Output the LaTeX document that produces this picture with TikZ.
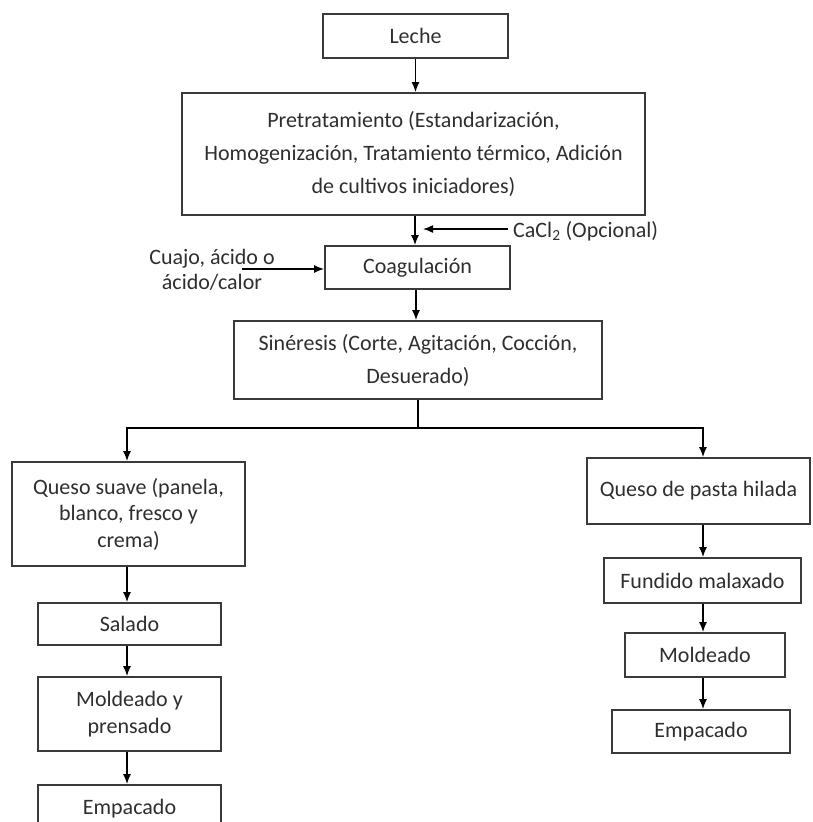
\documentclass[tikz,border=0pt]{standalone}
\usepackage{fontspec}
\setmainfont{Carlito}
\usetikzlibrary{arrows.meta}
\definecolor{ink}{HTML}{2E2E2E}
\definecolor{edge}{HTML}{3A3A3A}
\begin{document}
\begin{tikzpicture}[x=1pt,y=-1pt,
  box/.style={draw=edge,line width=1.8pt,inner sep=0pt,align=center,text=ink,
    font=\fontsize{22}{33}\selectfont},
  tight/.style={font=\fontsize{22}{26.5}\selectfont},
  lbl/.style={inner sep=0pt,align=center,text=ink,font=\fontsize{22}{25}\selectfont},
  arr/.style={line width=1.5pt,-{Latex[length=10pt,width=8pt]}},
  ln/.style={line width=1.5pt}]
\useasboundingbox (0,0) rectangle (812,822);

% main line
\node[box,minimum width=185pt,minimum height=44pt] (leche) at (415.5,36) {Leche};
\node[box,minimum width=463pt,minimum height=122pt] (pre) at (413.5,154)
  {Pretratamiento (Estandarización,\\Homogenización, Tratamiento térmico, Adición\\de cultivos iniciadores)};
\node[box,minimum width=185pt,minimum height=43pt] (coag) at (417.5,267.5) {Coagulación};
\node[box,minimum width=368pt,minimum height=78pt] (sin) at (418,360)
  {Sinéresis (Corte, Agitación, Cocción,\\Desuerado)};

% additions
\node[lbl,anchor=west] (cacl) at (513,231) {CaCl\textsubscript{2} (Opcional)};
\node[lbl] (cuajo) at (212,270) {Cuajo, ácido o\\ácido/calor};
\coordinate (cajoStart) at (242,269);

% left branch
\node[box,tight,minimum width=233pt,minimum height=104pt] (suave) at (128.5,514)
  {Queso suave (panela,\\blanco, fresco y\\crema)};
\node[box,minimum width=183pt,minimum height=42pt] (salado) at (129.5,624) {Salado};
\node[box,tight,minimum width=183pt,minimum height=74pt] (moldL) at (129.5,714) {Moldeado y\\prensado};
\node[box,minimum width=183pt,minimum height=48pt] (empL) at (129.5,809) {Empacado};

% right branch
\node[box,minimum width=223pt,minimum height=66pt] (hilada) at (698.5,491) {Queso de pasta hilada};
\node[box,minimum width=197pt,minimum height=45pt] (fund) at (702.5,580.5) {Fundido malaxado};
\node[box,minimum width=160pt,minimum height=44pt] (moldR) at (705,655) {Moldeado};
\node[box,minimum width=178pt,minimum height=43pt] (empR) at (701,731.5) {Empacado};

% connectors
\draw[arr] (leche.south) -- (leche.south |- pre.north);
\draw[arr] (pre.south -| 415,0) -- (coag.north -| 415,0);
\draw[arr] ([xshift=-5pt]cacl.west |- 0,229) -- (423,229);
\draw[arr] (cajoStart) -- (coag.west |- cajoStart);
\draw[arr] (coag.south -| 416,0) -- (sin.north -| 416,0);

\coordinate (split) at (418,428);
\draw[ln] (sin.south -| split) -- (split);
\draw[arr] (split) -| (suave.north -| 127,0);
\draw[arr] (split) -| (hilada.north -| 703,0);

\draw[arr] (suave.south -| 127,0) -- (salado.north -| 127,0);
\draw[arr] (salado.south -| 127,0) -- (moldL.north -| 127,0);
\draw[arr] (moldL.south -| 127,0) -- (empL.north -| 127,0);

\draw[arr] (hilada.south -| 703,0) -- (fund.north -| 703,0);
\draw[arr] (fund.south -| 703,0) -- (moldR.north -| 703,0);
\draw[arr] (moldR.south -| 703,0) -- (empR.north -| 703,0);
\end{tikzpicture}
\end{document}
